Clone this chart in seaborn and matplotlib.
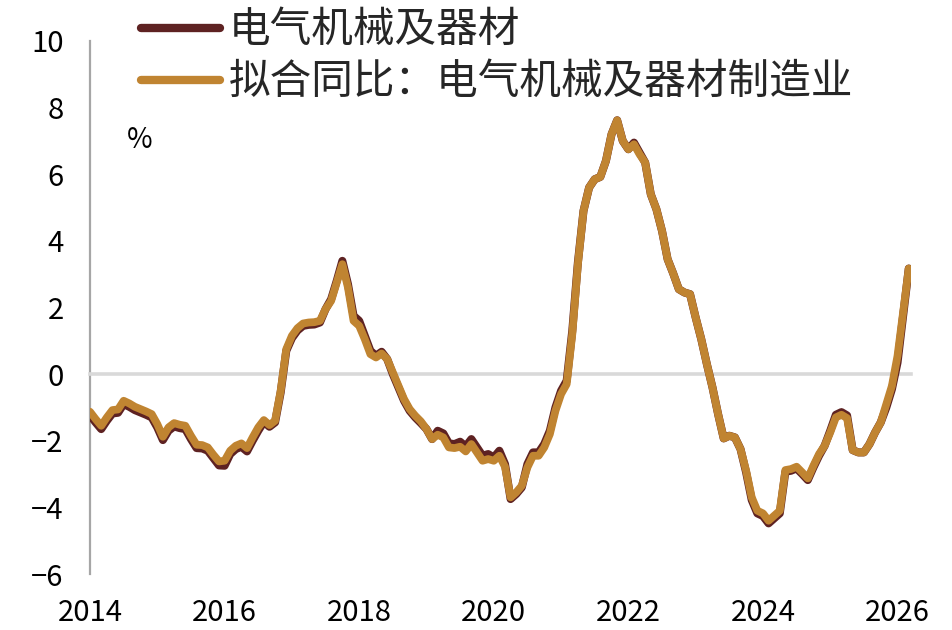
import numpy as np
import pandas as pd
import matplotlib
matplotlib.use("Agg")
import matplotlib.pyplot as plt
import seaborn as sns
from matplotlib.lines import Line2D

sns.set_theme(style="white")
plt.rcParams['font.family'] = ['Noto Sans CJK SC', 'DejaVu Sans']
plt.rcParams['axes.unicode_minus'] = True

# ---- data (monthly, Jan 2014 .. Mar 2026) ----
fitted = [
    -1.13, -1.35, -1.55, -1.30, -1.08, -1.06, -0.80, -0.88, -0.98, -1.05, -1.12, -1.20,   # 2014
    -1.50, -1.88, -1.60, -1.47, -1.52, -1.55, -1.85, -2.12, -2.13, -2.20, -2.42, -2.62,   # 2015
    -2.60, -2.30, -2.15, -2.08, -2.22, -1.90, -1.60, -1.38, -1.53, -1.40, -0.50, 0.75,    # 2016
    1.15, 1.38, 1.52, 1.55, 1.56, 1.60, 1.95, 2.20, 2.75, 3.30, 2.60, 1.60,              # 2017
    1.45, 1.05, 0.60, 0.50, 0.62, 0.45, 0.05, -0.35, -0.75, -1.05, -1.25, -1.42,         # 2018
    -1.65, -1.95, -1.82, -1.90, -2.20, -2.22, -2.18, -2.32, -2.10, -2.35, -2.60, -2.55,  # 2019
    -2.60, -2.45, -2.78, -3.70, -3.55, -3.35, -2.80, -2.45, -2.45, -2.20, -1.80, -1.10,  # 2020
    -0.60, -0.30, 1.20, 3.30, 4.90, 5.60, 5.85, 5.92, 6.40, 7.20, 7.62, 7.00,           # 2021
    6.75, 6.90, 6.60, 6.35, 5.40, 4.95, 4.30, 3.45, 3.02, 2.55, 2.45, 2.40,             # 2022
    1.70, 1.05, 0.30, -0.40, -1.20, -1.93, -1.85, -1.90, -2.25, -2.90, -3.70, -4.10,     # 2023
    -4.18, -4.40, -4.25, -4.10, -2.88, -2.85, -2.78, -2.95, -3.13, -2.75, -2.40, -2.15,  # 2024
    -1.75, -1.30, -1.22, -1.32, -2.28, -2.35, -2.35, -2.10, -1.75, -1.45, -0.90, -0.35,  # 2025
    0.55, 1.85, 3.17,                                                                     # 2026
]
actual = [
    -1.23, -1.45, -1.65, -1.40, -1.18, -1.16, -0.90, -0.98, -1.08, -1.15, -1.22, -1.30,   # 2014
    -1.60, -1.98, -1.70, -1.57, -1.62, -1.65, -1.95, -2.22, -2.23, -2.30, -2.52, -2.74,   # 2015
    -2.75, -2.40, -2.25, -2.18, -2.32, -2.00, -1.70, -1.43, -1.58, -1.45, -0.55, 0.70,    # 2016
    1.08, 1.31, 1.45, 1.48, 1.49, 1.55, 1.95, 2.25, 2.80, 3.40, 2.70, 1.75,              # 2017
    1.60, 1.15, 0.70, 0.55, 0.67, 0.45, 0.00, -0.40, -0.80, -1.10, -1.30, -1.47,         # 2018
    -1.65, -1.95, -1.70, -1.78, -2.08, -2.10, -2.03, -2.17, -1.95, -2.20, -2.45, -2.40,  # 2019
    -2.50, -2.30, -2.70, -3.75, -3.60, -3.40, -2.70, -2.35, -2.35, -2.10, -1.70, -1.00,  # 2020
    -0.50, -0.20, 1.30, 3.35, 4.90, 5.60, 5.85, 5.92, 6.40, 7.20, 7.62, 7.00,           # 2021
    6.75, 6.95, 6.65, 6.35, 5.40, 4.95, 4.30, 3.45, 3.02, 2.55, 2.45, 2.40,             # 2022
    1.70, 1.05, 0.30, -0.40, -1.20, -1.93, -1.85, -1.90, -2.25, -2.95, -3.78, -4.18,     # 2023
    -4.26, -4.48, -4.33, -4.18, -2.93, -2.90, -2.83, -3.00, -3.18, -2.80, -2.45, -2.15,  # 2024
    -1.70, -1.22, -1.14, -1.24, -2.28, -2.35, -2.35, -2.10, -1.75, -1.45, -1.00, -0.45,  # 2025
    0.35, 1.75, 3.17,                                                                     # 2026
]
label_actual = "电气机械及器材"
label_fitted = "拟合同比：电气机械及器材制造业"
year_ticks = [2014, 2016, 2018, 2020, 2022, 2024, 2026]
y_ticks = [-6, -4, -2, 0, 2, 4, 6, 8, 10]

col_actual = "#5E2222"
col_fitted = "#C08431"

t = 2014 + np.arange(len(fitted)) / 12.0
df = pd.DataFrame({"t": t, "actual": actual, "fitted": fitted})

fig = plt.figure(figsize=(9.52, 6.30), dpi=100)
ax = fig.add_axes([90 / 952, 1 - 574 / 630, (911 - 90) / 952, (574 - 41) / 630])

sns.lineplot(data=df, x="t", y="actual", ax=ax, color=col_actual, linewidth=5.8,
             solid_capstyle="round", solid_joinstyle="round", zorder=3)
sns.lineplot(data=df, x="t", y="fitted", ax=ax, color=col_fitted, linewidth=5.6,
             solid_capstyle="round", solid_joinstyle="round", zorder=4)

ax.set_xlim(2014, 2026.2)
ax.set_ylim(-6, 10)
ax.set_xlabel("")
ax.set_ylabel("")

# y axis: gray spine with inward ticks
for s in ["top", "right"]:
    ax.spines[s].set_visible(False)
ax.spines["left"].set_color("#A6A6A6")
ax.spines["left"].set_linewidth(1.6)
ax.set_yticks(y_ticks)
ax.set_yticklabels([f"{v}" if v >= 0 else f"\u2212{abs(v)}" for v in y_ticks])
ax.tick_params(axis="y", direction="in", length=7, width=1.6, color="#A6A6A6",
               labelsize=21, pad=19, labelcolor="black")

# x axis: spine at zero with upward ticks, labels at the bottom
ax.spines["bottom"].set_position(("data", 0))
ax.spines["bottom"].set_color("#D9D9D9")
ax.spines["bottom"].set_linewidth(2.6)
ax.set_xticks(year_ticks)
ax.tick_params(axis="x", direction="in", length=7, width=2.2, color="#D9D9D9",
               labelbottom=False)
sec = ax.secondary_xaxis("bottom")
sec.set_xticks(year_ticks)
sec.set_xticklabels([str(y) for y in year_ticks])
sec.tick_params(axis="x", length=0, labelsize=21, pad=17, labelcolor="black")
sec.spines["bottom"].set_visible(False)

ax.text(0.061, 0.815, "%", transform=ax.transAxes, fontsize=20,
        ha="center", va="center", color="black")

handles = [Line2D([0], [0], color=col_actual, lw=6, solid_capstyle="round"),
           Line2D([0], [0], color=col_fitted, lw=6, solid_capstyle="round")]
fig.legend(handles, [label_actual, label_fitted], loc="upper left",
           bbox_to_anchor=(112 / 952, 1.03), frameon=False, fontsize=30,
           handlelength=1.9, handletextpad=0.2, labelspacing=0.26, borderpad=0.2)

fig.savefig("out.png", dpi=100, facecolor="white")
